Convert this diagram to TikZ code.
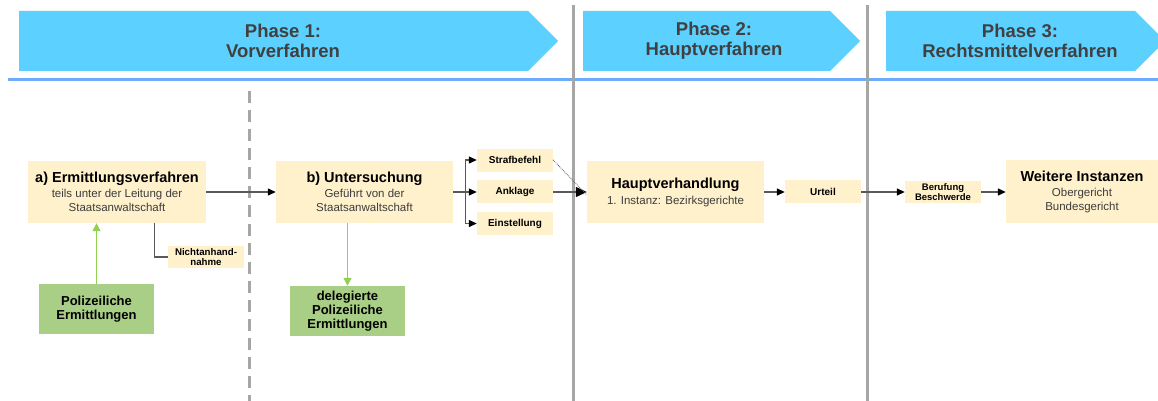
\documentclass[tikz,border=0pt]{standalone}
\usepackage{fontspec}
\setmainfont{Liberation Sans}
\usetikzlibrary{arrows.meta}
\definecolor{bannerblue}{RGB}{92,208,254}
\definecolor{lineblue}{RGB}{108,172,250}
\definecolor{sepgray}{RGB}{166,166,166}
\definecolor{boxyellow}{RGB}{255,241,204}
\definecolor{boxgreen}{RGB}{169,206,134}
\definecolor{greenline}{RGB}{146,208,80}
\definecolor{arrgray}{RGB}{89,89,89}
\definecolor{bantext}{RGB}{64,64,64}
\definecolor{subtext}{RGB}{60,60,60}
\newcommand\boxtitle{\color{black}\bfseries\fontsize{14.5}{16}\selectfont}
\tikzset{
  banner/.style={fill=bannerblue},
  bannerlabel/.style={align=center, text=bantext, font=\bfseries\fontsize{18.5}{20}\selectfont},
  mainbox/.style={fill=boxyellow, inner sep=0pt, align=center, text=subtext, font=\fontsize{11.5}{14}\selectfont},
  smallbox/.style={fill=boxyellow, inner sep=0pt, align=center, minimum width=76pt, minimum height=23pt, font=\bfseries\fontsize{10}{10.5}\selectfont},
  greenbox/.style={fill=boxgreen, inner sep=0pt, align=center, minimum width=115pt, minimum height=50pt, font=\bfseries\fontsize{13}{14}\selectfont},
  conn/.style={draw=arrgray, line width=1.3pt},
  arr/.style={conn, -{Triangle[length=8pt,width=7pt,color=black]}},
  bigarr/.style={conn, -{Triangle[length=11pt,width=10pt,color=black]}},
  garr/.style={draw=greenline, line width=1.3pt, -{Triangle[length=8pt,width=8pt]}},
  sepline/.style={draw=sepgray, line width=3pt},
}
\begin{document}
\begin{tikzpicture}[x=1pt,y=-1pt]
\useasboundingbox (0,0) rectangle (1158,401);
\fill[white] (0,0) rectangle (1158,401);

% separators
\draw[lineblue, line width=3pt] (8,80) -- (1158,80);
\draw[sepline] (573,5) -- (573,401);
\draw[sepline] (867,5) -- (867,401);
\draw[sepline, dash pattern=on 12pt off 7pt] (249,91) -- (249,401);

% banners
\fill[banner] (19,11) -- (528,11) -- (558,41) -- (528,71) -- (19,71) -- cycle;
\fill[banner] (583,11) -- (830,11) -- (860,41) -- (830,71) -- (583,71) -- cycle;
\fill[banner] (886,11) -- (1135,11) -- (1165,41) -- (1135,71) -- (886,71) -- cycle;
\node[bannerlabel] (p1) at (283,41) {Phase 1:\\Vorverfahren};
\node[bannerlabel] (p2) at (714,41) {Phase 2:\\Hauptverfahren};
\node[bannerlabel] (p3) at (1020,41) {Phase 3:\\Rechtsmittelverfahren};

% boxes
\node[mainbox, minimum width=178pt, minimum height=62pt] (a) at (117,192)
  {{\boxtitle a) Ermittlungsverfahren}\\[1pt]teils unter der Leitung der\\Staatsanwaltschaft};
\node[smallbox, minimum height=22pt, font=\bfseries\fontsize{9.7}{10.5}\selectfont] (n) at (206,257) {Nichtanhand-\\nahme};
\node[greenbox] (pol) at (96.5,309) {Polizeiliche\\Ermittlungen};

\node[mainbox, minimum width=177pt, minimum height=62pt] (b) at (364.5,192)
  {{\boxtitle b) Untersuchung}\\[1pt]Geführt von der\\Staatsanwaltschaft};
\node[greenbox] (del) at (347.5,311) {delegierte\\Polizeiliche\\Ermittlungen};

\node[smallbox] (sb) at (515,160) {Strafbefehl};
\node[smallbox] (ank) at (515,191.5) {Anklage};
\node[smallbox] (ein) at (515,223.5) {Einstellung};

\node[mainbox, minimum width=177pt, minimum height=62pt] (hv) at (675.5,192)
  {{\boxtitle Hauptverhandlung}\\[2pt]1. Instanz: Bezirksgerichte};
\node[smallbox] (ur) at (823,191.5) {Urteil};
\node[smallbox, minimum height=22pt, font=\bfseries\fontsize{9.5}{10}\selectfont] (be) at (943,192) {Berufung\\Beschwerde};
\node[mainbox, minimum width=152pt, minimum height=63pt] (wi) at (1082,191.5)
  {{\boxtitle Weitere Instanzen}\\[1pt]Obergericht\\Bundesgericht};

% connectors
\draw[arr] (a.east) -- (b.west);
\draw[conn] (a.south -| n.west) ++(-13,0) |- (n.west);
\draw[garr] (pol.north) -- (pol.north |- a.south);
\draw[garr] (b.south -| del.north) -- (del.north);

\coordinate (br) at ([xshift=12pt]b.east);
\draw[conn] (b.east) -- (br);
\draw[arr] (br) |- (sb.west);
\draw[arr] (br) -- (ank.west |- br);
\draw[arr] (br) |- (ein.west);

\draw[bigarr] (ank.east |- br) -- (hv.west);
\draw[draw=arrgray, line width=0.8pt, densely dotted] (sb.east) -- ([yshift=-3pt]hv.west);
\draw[arr] (hv.east) -- (ur.west |- hv.east);
\draw[arr] (ur.east |- hv.east) -- (be.west);
\draw[arr] (be.east) -- (wi.west |- be.east);
\end{tikzpicture}
\end{document}
